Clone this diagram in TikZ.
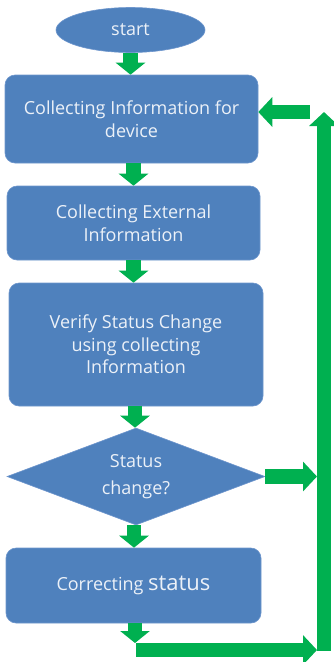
\documentclass[tikz,border=0pt]{standalone}
\usepackage{fontspec}
\setmainfont{Open Sans}
\usetikzlibrary{shapes.geometric,arrows.meta,calc}
\definecolor{boxblue}{RGB}{79,129,189}
\definecolor{boxedge}{RGB}{110,150,205}
\definecolor{arrgreen}{RGB}{0,176,80}
\definecolor{txt}{RGB}{236,241,248}
\tikzset{
  box/.style={draw=boxedge, line width=0.6pt, fill=boxblue, rounded corners=10pt,
    text=txt, align=center, inner sep=0pt, font=\fontsize{18}{22.5}\selectfont},
  blk/.style={draw=arrgreen, line width=14.5pt, line cap=butt,
    -{Triangle[width=29pt,length=12pt]}},
  blkl/.style={draw=arrgreen, line width=14.5pt, line cap=butt,
    -{Triangle[width=29pt,length=14pt]}},
}
\begin{document}
\begin{tikzpicture}[x=1pt,y=-1pt]
\useasboundingbox (0,0) rectangle (334,662);
% nodes
\node[box, ellipse, rounded corners=0pt, minimum width=149pt, minimum height=45pt] (start) at (130.5,30) {start};
\node[box, minimum width=253pt, minimum height=88pt] (b1) at (131.5,119) {Collecting Information for\\device};
\node[box, minimum width=253pt, minimum height=74pt] (b2) at (133.5,223) {Collecting External\\Information};
\node[box, minimum width=254pt, minimum height=123pt] (b3) at (136,344.5) {Verify Status Change\\using collecting\\Information};
\node[box, diamond, aspect=2.66, rounded corners=0pt, minimum width=258pt, minimum height=97pt] (dia) at (136,476.5) {Status\\[5pt]change?};
\node[box, minimum width=255pt, minimum height=75pt] (b4) at (133.5,585.5) {Correcting {\fontsize{22}{22.5}\selectfont status}};
% loop coordinates
\coordinate (bartop) at (324,112);
\coordinate (barbot) at (324,651);
\coordinate (barleft) at (317,650);
\coordinate (topfree) at (310,112);
\coordinate (hbarstart) at (136,650);
\coordinate (hbartop) at (135,643);
% arrows
\draw[blk] (start.south) -- (start.south |- b1.north);
\draw[blk] ([xshift=2pt]b1.south) -- ([xshift=2pt]b1.south |- b2.north);
\draw[blk] (b2.south) -- (b2.south |- b3.north);
\draw[blk] ([xshift=-1pt]b3.south) -- ([xshift=-1pt]b3.south |- dia.north);
\draw[blk] ([xshift=-2pt]dia.south) -- ([xshift=-2pt]dia.south |- b4.north);
\draw[blk] (b4.south -| hbartop) -- (hbartop);
\draw[blkl] (hbarstart) -- (barleft);
\draw[blkl] (barbot) -- (bartop);
\draw[blkl] (topfree) -- (topfree -| b1.east);
\draw[blkl] (dia.east) -- (dia.east -| barleft);
\end{tikzpicture}
\end{document}
